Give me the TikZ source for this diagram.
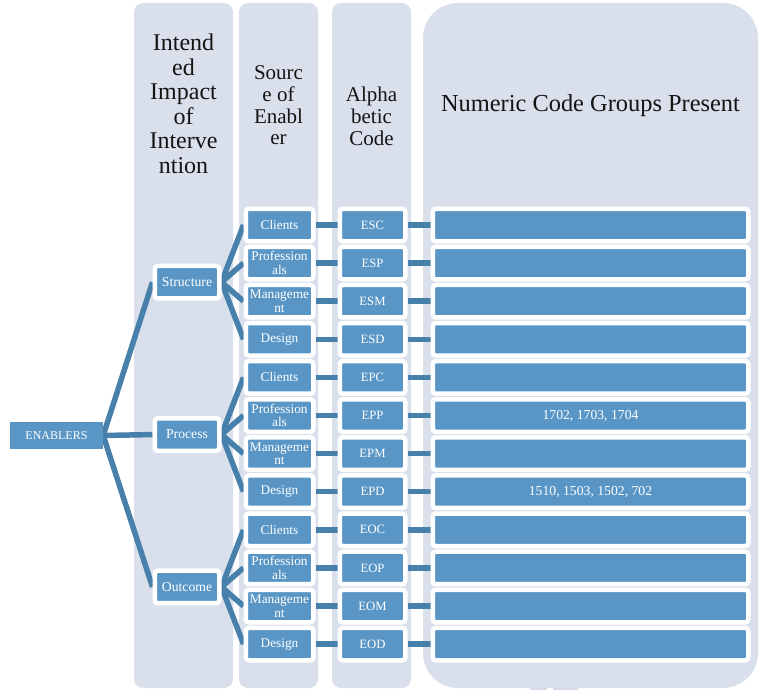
\documentclass[tikz,border=0pt]{standalone}
\usepackage{fontspec}
\setmainfont{Liberation Serif}
\definecolor{panel}{RGB}{217,224,235}
\definecolor{boxblue}{RGB}{89,150,198}
\definecolor{linkblue}{RGB}{72,128,172}
\pgfdeclarelayer{bg}
\pgfdeclarelayer{links}
\pgfsetlayers{bg,links,main}
\tikzset{
  cellbox/.style={fill=boxblue, draw=white, line width=4.5pt, rounded corners=3pt,
    inner sep=0pt, text=white, align=center, minimum height=32.5pt},
  lvlbox/.style={cellbox, minimum width=64.5pt, font=\fontsize{13.7}{14}\selectfont},
  srcbox/.style={cellbox, minimum width=67.5pt, font=\fontsize{13.3}{13.5}\selectfont},
  codebox/.style={cellbox, minimum width=65.5pt, font=\fontsize{12.7}{13}\selectfont},
  numbox/.style={cellbox, minimum width=315.5pt},
  numtext/.style={text=white, inner sep=0pt, font=\fontsize{13.7}{14}\selectfont},
  link/.style={draw=linkblue, line width=5.5pt},
  head/.style={align=center, text=black!92, inner sep=0pt},
}
\begin{document}
\begin{tikzpicture}[x=1pt,y=-1pt]
\useasboundingbox (0,0) rectangle (760,690);

% column panels
\begin{pgfonlayer}{bg}
  \fill[panel, rounded corners=9pt] (134,3) rectangle (233,688);
  \fill[panel, rounded corners=9pt] (239,3) rectangle (318,688);
  \fill[panel, rounded corners=9pt] (332,3) rectangle (411,688);
  \fill[panel, rounded corners=35pt] (423,3) rectangle (758,688);
  \fill[panel!95!gray] (530,687.5) rectangle (547,690);
  \fill[panel!95!gray] (553,687.5) rectangle (578,690);
\end{pgfonlayer}

% column headings
\node[head, font=\fontsize{24}{24.5}\selectfont] (h1) at (183.5,104)
  {Intend\\ed\\Impact\\of\\Interve\\ntion};
\node[head, font=\fontsize{21}{21.7}\selectfont] (h2) at (278.5,105.4)
  {Sourc\\e of\\Enabl\\er};
\node[head, font=\fontsize{21}{21.7}\selectfont] (h3) at (371.5,116.2)
  {Alpha\\betic\\Code};
\node[head, font=\fontsize{24.4}{29}\selectfont, anchor=base] (h4) at (590.5,111.7)
  {Numeric Code Groups Present};

% root
\node[fill=boxblue, inner sep=0pt, minimum width=93pt, minimum height=27pt,
  text=white, font=\fontsize{12}{13}\selectfont] (enablers) at (56.5,435.5) {ENABLERS};

% impact levels, sources, codes and code-group bars
\foreach \g/\lvl [count=\gi from 0] in {S/Structure,P/Process,O/Outcome}{
  \node[lvlbox] (\g) at (187,{225+38.1*(4*\gi+1.5)}) {\lvl};
  \begin{pgfonlayer}{links}
    \draw[link] (enablers.east) -- (\g.west);
  \end{pgfonlayer}
  \foreach \s/\src [count=\si from 0] in {C/Clients,P/{Profession\\als},M/{Manageme\\nt},D/Design}{
    \pgfmathsetmacro\yy{225+38.1*(4*\gi+\si)}
    \node[srcbox] (src\g\s) at (279.5,\yy) {\src};
    \node[codebox] (E\g\s) at (372.5,\yy) {E\g\s};
    \node[numbox] (num\g\s) at (590.5,\yy) {};
    \begin{pgfonlayer}{links}
      \draw[link] (\g.east) -- (src\g\s.west);
      \draw[link] (src\g\s.east) -- (E\g\s.west);
      \draw[link] (E\g\s.east) -- (num\g\s.west);
    \end{pgfonlayer}
  }
}

% numeric code groups
\node[numtext] (codesPP) at (numPP) {1702, 1703, 1704};
\node[numtext] (codesPD) at (numPD) {1510, 1503, 1502, 702};
\end{tikzpicture}
\end{document}
